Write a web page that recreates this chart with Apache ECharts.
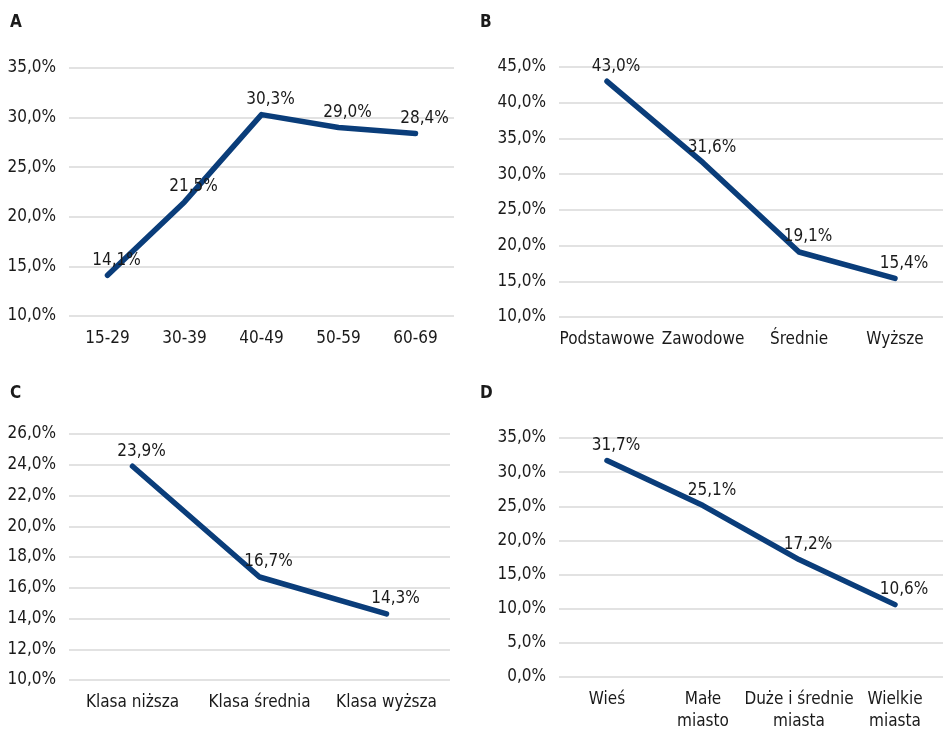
<!DOCTYPE html>
<html>
<head>
<meta charset="utf-8">
<script src="https://cdn.jsdelivr.net/npm/echarts@6/dist/echarts.min.js"></script>
<style>
	html, body { margin: 0; padding: 0; background: #fff; }
	#chart { width: 943px; height: 733px; }
</style>
</head>
<body>
<div id="chart"></div>
<script>
// wiek
const catsA = ['15-29', '30-39', '40-49', '50-59', '60-69'];
const valsA = [14.1, 21.5, 30.3, 29.0, 28.4];
// wykształcenie
const catsB = ['Podstawowe', 'Zawodowe', 'Średnie', 'Wyższe'];
const valsB = [43.0, 31.6, 19.1, 15.4];
// klasa
const catsC = ['Klasa niższa', 'Klasa średnia', 'Klasa wyższa'];
const valsC = [23.9, 16.7, 14.3];
// miejsce zamieszkania
const catsD = ['Wieś', 'Małe\nmiasto', 'Duże i średnie\nmiasta', 'Wielkie\nmiasta'];
const valsD = [31.7, 25.1, 17.2, 10.6];

// zakresy osi Y [min, max, interval]
const axisA = [10, 35, 5];
const axisB = [10, 45, 5];
const axisC = [10, 26, 2];
const axisD = [0, 35, 5];

const panelTitles = ['A', 'B', 'C', 'D'];

const FONT = '"Liberation Sans Narrow", "DejaVu Sans Condensed", sans-serif';
const TXT = '#1a1a1a';
const LINE = '#0a3d7a';

const fmt = v => v.toFixed(1).replace('.', ',') + '%';

let chart = echarts.init(document.getElementById('chart'));

const grids = [
	{ left: 69, width: 385, top: 68, height: 248 },
	{ left: 559, width: 390, top: 67, height: 250 },
	{ left: 69, width: 381, top: 434, height: 246 },
	{ left: 559, width: 390, top: 438, height: 245 },
];

const cats = [catsA, catsB, catsC, catsD];
const vals = [valsA, valsB, valsC, valsD];
const axes = [axisA, axisB, axisC, axisD];
const titlePos = [[5, 9], [475, 9], [5, 380], [475, 380]];

let option = {
	animation: false,
	title: panelTitles.map((t, i) => ({
		text: t,
		left: titlePos[i][0],
		top: titlePos[i][1],
		textStyle: { fontFamily: FONT, fontSize: 17, fontWeight: 'bold', color: TXT },
	})),
	grid: grids,
	xAxis: cats.map((c, i) => ({
		type: 'category',
		gridIndex: i,
		data: c,
		boundaryGap: true,
		axisLine: { show: false },
		axisTick: { show: false },
		axisLabel: {
			interval: 0,
			margin: 12,
			color: TXT,
			fontFamily: FONT,
			fontSize: 17,
			lineHeight: 22,
		},
	})),
	yAxis: axes.map((a, i) => ({
		type: 'value',
		gridIndex: i,
		min: a[0],
		max: a[1],
		interval: a[2],
		axisLine: { show: false },
		axisTick: { show: false },
		splitLine: { lineStyle: { color: '#d9d9d9', width: 1.5 } },
		axisLabel: {
			margin: 13,
			color: TXT,
			fontFamily: FONT,
			fontSize: 17,
			formatter: fmt,
		},
	})),
	series: vals.map((v, i) => ({
		type: 'line',
		xAxisIndex: i,
		yAxisIndex: i,
		data: v,
		symbol: 'circle',
		symbolSize: 1,
		showSymbol: true,
		itemStyle: { color: LINE },
		lineStyle: { color: LINE, width: 5.5, cap: 'round', join: 'round' },
		label: {
			show: true,
			position: 'top',
			distance: 6,
			offset: [9, 0],
			color: TXT,
			fontFamily: FONT,
			fontSize: 17,
			formatter: p => fmt(p.value),
		},
	})),
};

chart.setOption(option);
</script>
</body>
</html>
